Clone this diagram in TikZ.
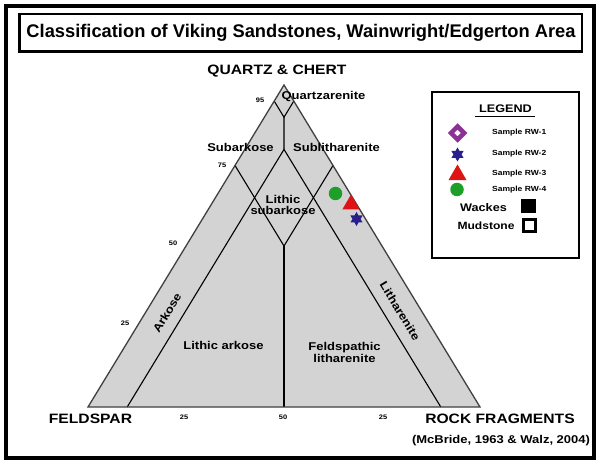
\documentclass[tikz,border=0pt]{standalone}
\usepackage{fontspec}
\setmainfont{Liberation Sans}
\newfontfamily\labfont{Liberation Sans}[FakeStretch=1.15]
\usetikzlibrary{shapes.geometric}
\definecolor{trigray}{RGB}{211,211,211}
\definecolor{mpurple}{RGB}{140,50,150}
\definecolor{mred}{RGB}{222,20,20}
\definecolor{mgreen}{RGB}{30,160,40}
\definecolor{mnavy}{RGB}{40,30,140}
\begin{document}
\begin{tikzpicture}[x=1bp,y=-1bp,
  titletext/.style={font=\fontsize{18.3bp}{20bp}\selectfont\bfseries, inner sep=0pt},
  axislabel/.style={font=\labfont\fontsize{13.6bp}{15bp}\selectfont\bfseries, inner sep=0pt},
  fieldlabel/.style={font=\labfont\fontsize{11.3bp}{13bp}\selectfont\bfseries, inner sep=0pt, align=center},
  ticklabel/.style={font=\labfont\fontsize{6.5bp}{8bp}\selectfont\bfseries, inner sep=0pt},
  samplelabel/.style={font=\labfont\fontsize{7.4bp}{9bp}\selectfont\bfseries, inner sep=0pt, anchor=west},
  legendlabel/.style={font=\labfont\fontsize{11bp}{13bp}\selectfont\bfseries, inner sep=0pt},
  triline/.style={line width=1.1bp, black},
  edgeline/.style={line width=1.3bp, black!75},
  ptcircle/.style={circle, fill=mgreen, inner sep=0pt, minimum size=13.5bp},
  pttri/.style={regular polygon, regular polygon sides=3, fill=mred, inner sep=0pt, minimum size=20bp},
  ptstar/.style={star, star points=6, star point ratio=1.732, fill=mnavy, inner sep=0pt, minimum size=14bp},
  ptdiamond/.style={diamond, draw=mpurple, line width=4.5bp, fill=white, inner sep=0pt, minimum size=15bp}
]
\useasboundingbox (0,0) rectangle (600,465);
\fill[white] (0,0) rectangle (600,465);

% frames
\draw[line width=3.2bp] (6,6) rectangle (594,458);
\draw[line width=2.4bp] (19.5,14) rectangle (582,51.5);
\node[titletext] (title) at (301,33) {Classification of Viking Sandstones, Wainwright/Edgerton Area};

% triangle
\coordinate (Q) at (284,85);
\coordinate (F) at (88,407);
\coordinate (R) at (480,407);
\fill[trigray] (Q) -- (F) -- (R) -- cycle;

\coordinate (a1) at (barycentric cs:Q=0.95,F=0.05,R=0);
\coordinate (a2) at (barycentric cs:Q=0.95,F=0,R=0.05);
\coordinate (a3) at (barycentric cs:Q=0.90,F=0.05,R=0.05);
\coordinate (a4) at (barycentric cs:Q=0.80,F=0.10,R=0.10);
\coordinate (b1) at (barycentric cs:Q=0.75,F=0.25,R=0);
\coordinate (b2) at (barycentric cs:Q=0.75,F=0,R=0.25);
\coordinate (b3) at (barycentric cs:Q=0.50,F=0.25,R=0.25);
\coordinate (b4) at (barycentric cs:Q=0,F=0.5,R=0.5);
\coordinate (c1) at (barycentric cs:Q=0,F=0.9,R=0.1);
\coordinate (c2) at (barycentric cs:Q=0,F=0.1,R=0.9);

\draw[triline] (a1) -- (a3) -- (a2);
\draw[triline] (a3) -- (a4);
\draw[triline] (c1) -- (a4) -- (c2);
\draw[triline] (b1) -- (b3) -- (b2);
\draw[triline] (b3) -- (b4);
\draw[edgeline, line join=miter] (Q) -- (F) -- (R) -- cycle;

% vertex labels
\node[axislabel] (lq) at (277,71) {QUARTZ \& CHERT};
\node[axislabel] (lf) at (90.5,419) {FELDSPAR};
\node[axislabel] (lr) at (500,419) {ROCK FRAGMENTS};
\node[fieldlabel] (cite) at (501,441) {(McBride, 1963 \& Walz, 2004)};

% tick labels
\node[ticklabel] (t95) at (260,100) {95};
\node[ticklabel] (t75) at (222,165) {75};
\node[ticklabel] (t50) at (173,243) {50};
\node[ticklabel] (t25) at (125,323) {25};
\node[ticklabel] (b25a) at (184,417) {25};
\node[ticklabel] (b50) at (283,417) {50};
\node[ticklabel] (b25b) at (383,417) {25};

% field labels
\node[fieldlabel] (fqa) at (323.5,97) {Quartzarenite};
\node[fieldlabel] (fsa) at (240.5,147) {Subarkose};
\node[fieldlabel] (fsl) at (336.5,147) {Sublitharenite};
\node[fieldlabel] (fls) at (283,205) {Lithic\\[-1.5bp]subarkose};
\node[fieldlabel] (fla) at (223.5,345) {Lithic arkose};
\node[fieldlabel] (ffl) at (344.5,352.5) {Feldspathic\\[-1.5bp]litharenite};
\node[fieldlabel, rotate=58.8] (fak) at (167,313) {Arkose};
\node[fieldlabel, rotate=-58.8] (flt) at (400,311) {Litharenite};

% samples
\node[ptcircle] (s4) at (335.5,193.5) {};
\node[pttri] (s3) at (351,204.5) {};
\node[ptstar] (s2) at (356.5,219) {};

% legend
\draw[line width=1.8bp] (432,92) rectangle (579,258);
\node[legendlabel] (leg) at (505.5,108.5) {LEGEND};
\coordinate (ul1) at (475,116.5);
\coordinate (ul2) at (535,116.5);
\draw[line width=1.5bp] (ul1) -- (ul2);
\node[ptdiamond] (k1) at (457.5,133) {};
\node[ptstar] (k2) at (457.5,154.5) {};
\node[pttri, minimum size=21bp] (k3) at (457.5,175) {};
\node[ptcircle, minimum size=13.5bp] (k4) at (457,189.5) {};
\node[samplelabel] (n1) at (492,132.5) {Sample RW-1};
\node[samplelabel] (n2) at (492,154) {Sample RW-2};
\node[samplelabel] (n3) at (492,173.5) {Sample RW-3};
\node[samplelabel] (n4) at (492,189.5) {Sample RW-4};
\node[legendlabel] (nw) at (483.5,208) {Wackes};
\node[legendlabel, font=\labfont\fontsize{10.5bp}{12bp}\selectfont\bfseries] (nm) at (486,226) {Mudstone};
\node[fill=black, inner sep=0pt, minimum size=14.5bp] (kw) at (528.5,206) {};
\node[draw=black, line width=3bp, fill=white, inner sep=0pt, minimum size=12bp] (km) at (529.5,225.5) {};
\end{tikzpicture}
\end{document}
